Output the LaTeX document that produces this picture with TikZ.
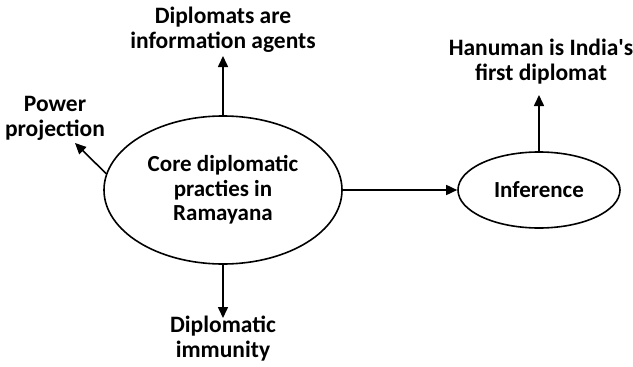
\documentclass[tikz,border=0pt]{standalone}
\usepackage{fontspec}
\setmainfont{Carlito}
\usepackage{tikz}
\usetikzlibrary{shapes.geometric,positioning,arrows.meta}
\tikzset{
	idea/.style={
		draw=black,          % black border
		line width=1.6pt,    % border thickness
		ellipse,             % shape
		inner sep=0pt,       % padding
		align=center,
		font=\fontsize{23}{24.5}\selectfont\bfseries
	},
	note/.style={
		align=center,
		inner sep=0pt,
		font=\fontsize{23.5}{25}\selectfont\bfseries
	},
	link/.style={
		line width=1.6pt,
		-{Triangle[length=11pt,width=10pt]}
	}
}

\begin{document}
\begin{tikzpicture}[x=1pt,y=-1pt]
	\useasboundingbox (0,0) rectangle (633,367);
	% main ellipses
	\node[idea, minimum width=238pt, minimum height=148pt] (core) at (223,190)
		{Core diplomatic\\practies in\\Ramayana};
	\node[idea, minimum width=162pt, minimum height=76pt] (infer) at (539,190)
		{Inference};
	% labels
	\node[note] (agents) at (223,30) {Diplomats are\\information agents};
	\node[note] (power) at (55,118) {Power\\projection};
	\node[note] (immune) at (223,339) {Diplomatic\\immunity};
	\node[note] (hanu) at (541,62) {Hanuman is India\textquotesingle s\\first diplomat};
	\coordinate (powertip) at (75,143);
	\coordinate (agentstip) at (223,56);
	\coordinate (immunetip) at (223,318);
	\coordinate (hanutip) at (539,95);
	% arrows
	\draw[link] (core.north) -- (agentstip);
	\draw[link] (core.172) -- (powertip);
	\draw[link] (core.south) -- (immunetip);
	\draw[link] (core.east) -- (infer.west);
	\draw[link] (infer.north) -- (hanutip);
\end{tikzpicture}
\end{document}
